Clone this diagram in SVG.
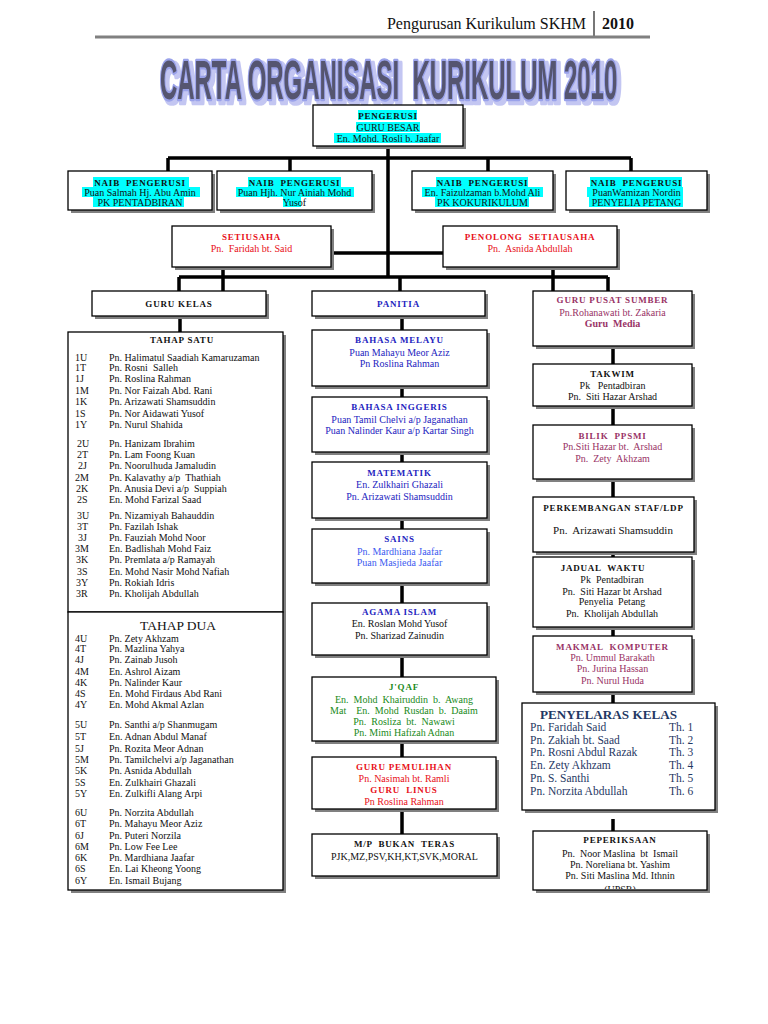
<svg xmlns="http://www.w3.org/2000/svg" width="768" height="1024" viewBox="0 0 768 1024" xml:space="preserve">
<defs>
<style>
text{font-family:"Liberation Serif","Times New Roman",serif;font-size:10px;fill:#111;white-space:pre}
.m{text-anchor:middle}
.h{font-weight:bold;font-size:9px;letter-spacing:0.8px}
.b{fill:#fff;stroke:#000;stroke-width:1.3}
.s{fill:#808080}
.hl{fill:#00ffff}
.c{stroke:#000;stroke-width:3.5;fill:none}
.red{fill:#e8101a}
.blu{fill:#2424c0}
.blu2{fill:#3d5cf0}
.mar{fill:#993366}
.grn{fill:#1a8a1a}
.nav{fill:#1f3864}
.ttl{font-family:"Liberation Sans",Arial,sans-serif;font-size:55px;font-weight:bold;fill:#55556f;stroke:#9aa2ea;stroke-width:3.5;paint-order:stroke;stroke-linejoin:round;vector-effect:non-scaling-stroke}
</style>
<filter id="tsh" x="-5%" y="-20%" width="112%" height="150%">
<feMorphology in="SourceAlpha" operator="dilate" radius="2.3 1" result="d"/>
<feOffset in="d" dx="7" dy="3" result="o"/>
<feFlood flood-color="#c3c6f2"/>
<feComposite in2="o" operator="in" result="sh"/>
<feMerge><feMergeNode in="sh"/><feMergeNode in="SourceGraphic"/></feMerge>
</filter>
<clipPath id="clipPep"><rect x="533" y="831" width="174" height="58"/></clipPath>
</defs>
<rect width="768" height="1024" fill="#fff"/>

<g id="header">
<text x="586" y="29" text-anchor="end" style="font-size:16px">Pengurusan Kurikulum SKHM</text>
<line x1="594" y1="11" x2="594" y2="36" stroke="#777" stroke-width="2"/>
<text x="602" y="29" style="font-size:16px;font-weight:bold">2010</text>
<line x1="95" y1="37" x2="650" y2="37" stroke="#808080" stroke-width="3"/>
</g>

<g id="title">
<text class="ttl" x="0" y="0" transform="translate(160,99) scale(0.435,1)" filter="url(#tsh)">CARTA ORGANISASI  KURIKULUM 2010</text>
</g>

<g id="connectors">
<path class="c" d="M388 146V277M168 158H631M168 158V171M290 158V171M488 158V171M631 158V171"/>
<path class="c" d="M331 253H443M179 277H608M179 277V291M400 277V291M608 277V291M223 267V295M553 267V295"/>
<path class="c" d="M180 316V332M180 587V612"/>
<path class="c" d="M402 316V330M402 386V397M402 452V462M402 518V529M402 583V603M402 652V677M402 741V757M402 809V834"/>
<path class="c" d="M613 346V364M613 406V425M613 479V497M613 552V557M613 627V636M613 692V703M613 819V831"/>
</g>

<g id="pengerusi">
<rect class="s" x="316" y="108" width="150" height="41"/><rect class="b" x="313" y="105" width="150" height="41"/>
<rect class="hl" x="358" y="110" width="59" height="10"/><rect class="hl" x="356" y="122" width="64" height="10"/><rect class="hl" x="334" y="133" width="107" height="10"/>
<text class="m h" x="388" y="118.5">PENGERUSI</text>
<text class="m" x="388" y="130.5">GURU BESAR</text>
<text class="m" x="388" y="141.5">En. Mohd. Rosli b. Jaafar</text>
</g>

<g id="naib1">
<rect class="s" x="71" y="174" width="144" height="39"/><rect class="b" x="68" y="171" width="144" height="39"/>
<rect class="hl" x="93" y="177" width="96" height="10"/><rect class="hl" x="82" y="187" width="118" height="10"/><rect class="hl" x="93" y="197" width="91" height="10"/>
<text class="m h" x="140" y="185.5">NAIB  PENGERUSI</text>
<text class="m" x="140" y="195.5">Puan Salmah Hj. Abu Amin</text>
<text class="m" x="140" y="205.5">PK PENTADBIRAN</text>
</g>
<g id="naib2">
<rect class="s" x="220" y="174" width="155" height="39"/><rect class="b" x="217" y="171" width="155" height="39"/>
<rect class="hl" x="248" y="177" width="93" height="10"/><rect class="hl" x="236" y="187" width="118" height="10"/><rect class="hl" x="283" y="197" width="18" height="10"/>
<text class="m h" x="294.5" y="185.5">NAIB  PENGERUSI</text>
<text class="m" x="294.5" y="195.5">Puan Hjh. Nur Ainiah Mohd</text>
<text class="m" x="294.5" y="205.5">Yusof</text>
</g>
<g id="naib3">
<rect class="s" x="415" y="174" width="141" height="39"/><rect class="b" x="412" y="171" width="141" height="39"/>
<rect class="hl" x="436" y="177" width="92" height="10"/><rect class="hl" x="422" y="187" width="121" height="10"/><rect class="hl" x="435" y="197" width="94" height="10"/>
<text class="m h" x="482.5" y="185.5">NAIB  PENGERUSI</text>
<text class="m" x="482.5" y="195.5">En. Faizulzaman b.Mohd Ali</text>
<text class="m" x="482.5" y="205.5">PK KOKURIKULUM</text>
</g>
<g id="naib4">
<rect class="s" x="569" y="174" width="141" height="39"/><rect class="b" x="566" y="171" width="141" height="39"/>
<rect class="hl" x="590" y="177" width="92" height="10"/><rect class="hl" x="587" y="187" width="96" height="10"/><rect class="hl" x="589" y="197" width="94" height="10"/>
<text class="m h" x="636.5" y="185.5">NAIB  PENGERUSI</text>
<text class="m" x="636.5" y="195.5">PuanWamizan Nordin</text>
<text class="m" x="636.5" y="205.5">PENYELIA PETANG</text>
</g>

<g id="setiausaha">
<rect class="s" x="175" y="229" width="159" height="41"/><rect class="b" x="172" y="226" width="159" height="41"/>
<text class="m h red" x="251.5" y="240">SETIUSAHA</text>
<text class="m red" x="251.5" y="251.5">Pn.  Faridah bt. Said</text>
</g>
<g id="penolong">
<rect class="s" x="446" y="229" width="174" height="41"/><rect class="b" x="443" y="226" width="174" height="41"/>
<text class="m h red" x="530" y="240">PENOLONG  SETIAUSAHA</text>
<text class="m red" x="530" y="251.5">Pn.  Asnida Abdullah</text>
</g>

<g id="gurukelas">
<rect class="s" x="95" y="294" width="174" height="25"/><rect class="b" x="92" y="291" width="174" height="25"/>
<text class="m h" x="179" y="307">GURU KELAS</text>
</g>
<g id="panitia">
<rect class="s" x="315" y="294" width="173" height="25"/><rect class="b" x="312" y="291" width="173" height="25"/>
<text class="m h blu" x="398.5" y="307">PANITIA</text>
</g>
<g id="pusatsumber">
<rect class="s" x="536" y="294" width="159" height="55"/><rect class="b" x="533" y="291" width="159" height="55"/>
<text class="m h mar" x="612.5" y="303">GURU PUSAT SUMBER</text>
<text class="m mar" x="612.5" y="315.5">Pn.Rohanawati bt. Zakaria</text>
<text class="m mar" x="612.5" y="326.5" style="font-weight:bold">Guru  Media</text>
</g>

<g id="tahapsatu">
<rect class="s" x="71" y="335" width="215" height="280"/><rect class="b" x="68" y="332" width="215" height="280"/>
<text class="m h" x="182" y="343">TAHAP SATU</text>
<text x="75" y="360.5">1U</text><text x="109" y="360.5">Pn. Halimatul Saadiah Kamaruzaman</text>
<text x="75" y="371">1T</text><text x="109" y="371">Pn. Rosni  Salleh</text>
<text x="75" y="382">1J</text><text x="109" y="382">Pn. Roslina Rahman</text>
<text x="75" y="393.5">1M</text><text x="109" y="393.5">Pn. Nor Faizah Abd. Rani</text>
<text x="75" y="405">1K</text><text x="109" y="405">Pn. Arizawati Shamsuddin</text>
<text x="75" y="416.5">1S</text><text x="109" y="416.5">Pn. Nor Aidawati Yusof</text>
<text x="75" y="427.5">1Y</text><text x="109" y="427.5">Pn. Nurul Shahida</text>
<text x="77" y="446.5">2U</text><text x="109" y="446.5">Pn. Hanizam Ibrahim</text>
<text x="77" y="458">2T</text><text x="109" y="458">Pn. Lam Foong Kuan</text>
<text x="78" y="469">2J</text><text x="109" y="469">Pn. Noorulhuda Jamaludin</text>
<text x="75" y="480.5">2M</text><text x="109" y="480.5">Pn. Kalavathy a/p  Thathiah</text>
<text x="76" y="491.5">2K</text><text x="109" y="491.5">Pn. Anusia Devi a/p  Suppiah</text>
<text x="77" y="503">2S</text><text x="109" y="503">En. Mohd Farizal Saad</text>
<text x="77" y="518.5">3U</text><text x="109" y="518.5">Pn. Nizamiyah Bahauddin</text>
<text x="77" y="529.5">3T</text><text x="109" y="529.5">Pn. Fazilah Ishak</text>
<text x="78" y="540.5">3J</text><text x="109" y="540.5">Pn. Fauziah Mohd Noor</text>
<text x="75" y="551.5">3M</text><text x="109" y="551.5">En. Badlishah Mohd Faiz</text>
<text x="76" y="562.5">3K</text><text x="109" y="562.5">Pn. Premlata a/p Ramayah</text>
<text x="77" y="574.5">3S</text><text x="109" y="574.5">En. Mohd Nasir Mohd Nafiah</text>
<text x="76" y="585.5">3Y</text><text x="109" y="585.5">Pn. Rokiah Idris</text>
<text x="76" y="596.5">3R</text><text x="109" y="596.5">Pn. Kholijah Abdullah</text>
</g>

<g id="tahapdua">
<rect class="s" x="71" y="615" width="215" height="278"/><rect class="b" x="68" y="612" width="215" height="278"/>
<text class="m" x="178" y="630" style="font-size:13.5px">TAHAP DUA</text>
<text x="75" y="641.5">4U</text><text x="109" y="641.5">Pn. Zety Akhzam</text>
<text x="75" y="651.5">4T</text><text x="109" y="651.5">Pn. Mazlina Yahya</text>
<text x="75" y="662.5">4J</text><text x="109" y="662.5">Pn. Zainab Jusoh</text>
<text x="75" y="674.5">4M</text><text x="109" y="674.5">En. Ashrol Aizam</text>
<text x="75" y="685.5">4K</text><text x="109" y="685.5">Pn. Nalinder Kaur</text>
<text x="75" y="696.5">4S</text><text x="109" y="696.5">En. Mohd Firdaus Abd Rani</text>
<text x="75" y="707.5">4Y</text><text x="109" y="707.5">En. Mohd Akmal Azlan</text>
<text x="75" y="727.5">5U</text><text x="109" y="727.5">Pn. Santhi a/p Shanmugam</text>
<text x="75" y="739.5">5T</text><text x="109" y="739.5">En. Adnan Abdul Manaf</text>
<text x="75" y="751.5">5J</text><text x="109" y="751.5">Pn. Rozita Meor Adnan</text>
<text x="75" y="762.5">5M</text><text x="109" y="762.5">Pn. Tamilchelvi a/p Jaganathan</text>
<text x="75" y="773.5">5K</text><text x="109" y="773.5">Pn. Asnida Abdullah</text>
<text x="75" y="785.5">5S</text><text x="109" y="785.5">En. Zulkhairi Ghazali</text>
<text x="75" y="796.5">5Y</text><text x="109" y="796.5">En. Zulkifli Alang Arpi</text>
<text x="75" y="815.5">6U</text><text x="109" y="815.5">Pn. Norzita Abdullah</text>
<text x="75" y="826.5">6T</text><text x="109" y="826.5">Pn. Mahayu Meor Aziz</text>
<text x="75" y="838.5">6J</text><text x="109" y="838.5">Pn. Puteri Norzila</text>
<text x="75" y="849.5">6M</text><text x="109" y="849.5">Pn. Low Fee Lee</text>
<text x="75" y="860.5">6K</text><text x="109" y="860.5">Pn. Mardhiana Jaafar</text>
<text x="75" y="871.5">6S</text><text x="109" y="871.5">En. Lai Kheong Yoong</text>
<text x="75" y="883.5">6Y</text><text x="109" y="883.5">En. Ismail Bujang</text>
</g>

<g id="bahasamelayu">
<rect class="s" x="315" y="333" width="175" height="56"/><rect class="b" x="312" y="330" width="175" height="56"/>
<text class="m h blu" x="399.5" y="343">BAHASA MELAYU</text>
<text class="m blu" x="399.5" y="355.5">Puan Mahayu Meor Aziz</text>
<text class="m blu" x="399.5" y="366.5">Pn Roslina Rahman</text>
</g>
<g id="bahasainggeris">
<rect class="s" x="315" y="400" width="175" height="55"/><rect class="b" x="312" y="397" width="175" height="55"/>
<text class="m h blu" x="399.5" y="410">BAHASA INGGERIS</text>
<text class="m blu" x="399.5" y="422.5">Puan Tamil Chelvi a/p Jaganathan</text>
<text class="m blu" x="399.5" y="433.5">Puan Nalinder Kaur a/p Kartar Singh</text>
</g>
<g id="matematik">
<rect class="s" x="315" y="465" width="175" height="56"/><rect class="b" x="312" y="462" width="175" height="56"/>
<text class="m h blu" x="399.5" y="476">MATEMATIK</text>
<text class="m blu" x="399.5" y="487.5">En. Zulkhairi Ghazali</text>
<text class="m blu" x="399.5" y="499.5">Pn. Arizawati Shamsuddin</text>
</g>
<g id="sains">
<rect class="s" x="315" y="532" width="175" height="54"/><rect class="b" x="312" y="529" width="175" height="54"/>
<text class="m h blu" x="399.5" y="542">SAINS</text>
<text class="m blu2" x="399.5" y="554.5">Pn. Mardhiana Jaafar</text>
<text class="m blu2" x="399.5" y="565.5">Puan Masjieda Jaafar</text>
</g>
<g id="agamaislam">
<rect class="s" x="315" y="606" width="175" height="52"/><rect class="b" x="312" y="603" width="175" height="52"/>
<text class="m h blu" x="399.5" y="615">AGAMA ISLAM</text>
<text class="m" x="399.5" y="626.5">En. Roslan Mohd Yusof</text>
<text class="m" x="399.5" y="638.5">Pn. Sharizad Zainudin</text>
</g>
<g id="jqaf">
<rect class="s" x="315" y="680" width="184" height="64"/><rect class="b" x="312" y="677" width="184" height="64"/>
<text class="m h grn" x="404" y="690">J'QAF</text>
<text class="m grn" x="404" y="702.5">En.  Mohd  Khairuddin  b.  Awang</text>
<text class="m grn" x="404" y="713.5">Mat    En.  Mohd  Rusdan  b.  Daaim</text>
<text class="m grn" x="404" y="724.5">Pn.  Rosliza  bt.  Nawawi</text>
<text class="m grn" x="404" y="735.5">Pn. Mimi Hafizah Adnan</text>
</g>
<g id="pemulihan">
<rect class="s" x="315" y="760" width="184" height="52"/><rect class="b" x="312" y="757" width="184" height="52"/>
<text class="m h red" x="404" y="770">GURU PEMULIHAN</text>
<text class="m red" x="404" y="781.5">Pn. Nasimah bt. Ramli</text>
<text class="m h red" x="404" y="792.5">GURU  LINUS</text>
<text class="m red" x="404" y="804.5">Pn Roslina Rahman</text>
</g>
<g id="bukanteras">
<rect class="s" x="315" y="837" width="185" height="42"/><rect class="b" x="312" y="834" width="185" height="42"/>
<text class="m h" x="404.5" y="847">M/P  BUKAN  TERAS</text>
<text class="m" x="404.5" y="859.5">PJK,MZ,PSV,KH,KT,SVK,MORAL</text>
</g>

<g id="takwim">
<rect class="s" x="536" y="367" width="159" height="42"/><rect class="b" x="533" y="364" width="159" height="42"/>
<text class="m h" x="612.5" y="377">TAKWIM</text>
<text class="m" x="612.5" y="388.5">Pk   Pentadbiran</text>
<text class="m" x="612.5" y="399.5">Pn.  Siti Hazar Arshad</text>
</g>
<g id="ppsmi">
<rect class="s" x="536" y="428" width="159" height="54"/><rect class="b" x="533" y="425" width="159" height="54"/>
<text class="m h mar" x="612.5" y="439">BILIK  PPSMI</text>
<text class="m mar" x="612.5" y="449.5">Pn.Siti Hazar bt.  Arshad</text>
<text class="m mar" x="612.5" y="461.5">Pn.  Zety  Akhzam</text>
</g>
<g id="ldp">
<rect class="s" x="536" y="500" width="161" height="55"/><rect class="b" x="533" y="497" width="161" height="55"/>
<text class="m h" x="613.5" y="511">PERKEMBANGAN STAF/LDP</text>
<text class="m" x="613" y="534" style="font-size:11px">Pn.  Arizawati Shamsuddin</text>
</g>
<g id="jadualwaktu">
<rect class="s" x="536" y="560" width="159" height="70"/><rect class="b" x="533" y="557" width="159" height="70"/>
<text class="m h" x="603" y="571">JADUAL  WAKTU</text>
<text class="m" x="612" y="582.5">Pk  Pentadbiran</text>
<text class="m" x="612" y="594.5">Pn.  Siti Hazar bt Arshad</text>
<text class="m" x="612" y="604.5">Penyelia  Petang</text>
<text class="m" x="612" y="616.5">Pn.  Kholijah Abdullah</text>
</g>
<g id="makmal">
<rect class="s" x="536" y="639" width="159" height="56"/><rect class="b" x="533" y="636" width="159" height="56"/>
<text class="m h mar" x="612.5" y="650">MAKMAL  KOMPUTER</text>
<text class="m mar" x="612.5" y="660.5">Pn. Ummul Barakath</text>
<text class="m mar" x="612.5" y="671.5">Pn. Jurina Hassan</text>
<text class="m mar" x="612.5" y="683.5">Pn. Nurul Huda</text>
</g>
<g id="penyelaras">
<rect class="s" x="525" y="706" width="193" height="107"/><rect class="b" x="522" y="703" width="193" height="107"/>
<text class="nav" x="540" y="719" textLength="137" lengthAdjust="spacingAndGlyphs" style="font-size:13px;font-weight:bold">PENYELARAS KELAS</text>
<text class="nav" x="530" y="731" style="font-size:11.5px">Pn. Faridah Said</text><text class="nav" x="669" y="731" style="font-size:11.5px">Th. 1</text>
<text class="nav" x="530" y="744" style="font-size:11.5px">Pn. Zakiah bt. Saad</text><text class="nav" x="669" y="744" style="font-size:11.5px">Th. 2</text>
<text class="nav" x="530" y="756" style="font-size:11.5px">Pn. Rosni Abdul Razak</text><text class="nav" x="669" y="756" style="font-size:11.5px">Th. 3</text>
<text class="nav" x="530" y="769" style="font-size:11.5px">En. Zety Akhzam</text><text class="nav" x="669" y="769" style="font-size:11.5px">Th. 4</text>
<text class="nav" x="530" y="782" style="font-size:11.5px">Pn. S. Santhi</text><text class="nav" x="669" y="782" style="font-size:11.5px">Th. 5</text>
<text class="nav" x="530" y="795" style="font-size:11.5px">Pn. Norzita Abdullah</text><text class="nav" x="669" y="795" style="font-size:11.5px">Th. 6</text>
</g>
<g id="peperiksaan">
<rect class="s" x="536" y="834" width="174" height="59"/><rect class="b" x="533" y="831" width="174" height="59"/>
<g clip-path="url(#clipPep)">
<text class="m h" x="620" y="843">PEPERIKSAAN</text>
<text class="m" x="620" y="856.5">Pn.  Noor Maslina  bt  Ismail</text>
<text class="m" x="620" y="867.5">Pn. Noreliana bt. Yashim</text>
<text class="m" x="620" y="878.5">Pn. Siti Maslina Md. Ithnin</text>
<text class="m" x="620" y="893">(UPSR)</text>
</g>
</g>
</svg>
